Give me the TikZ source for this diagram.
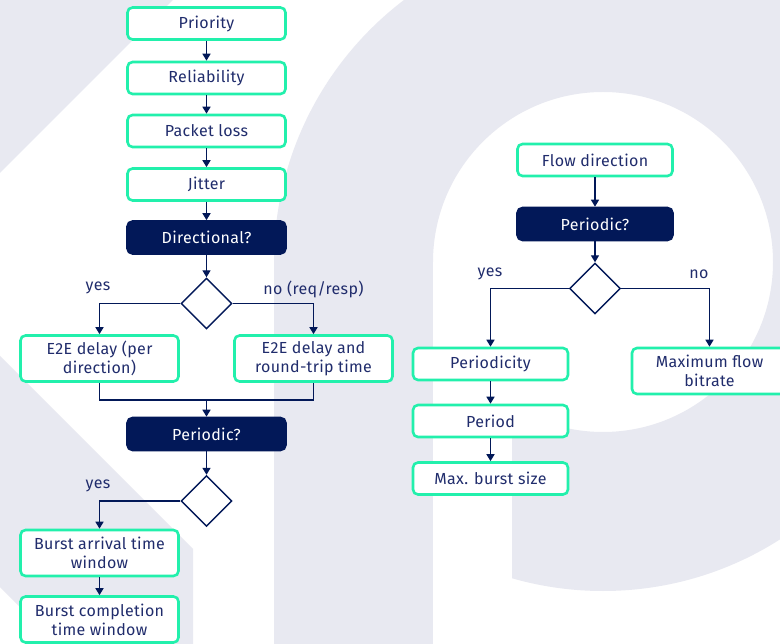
\documentclass[tikz,border=0pt]{standalone}
\usepackage{fontspec}
\setmainfont{Fira Sans}[LetterSpace=2]
\usetikzlibrary{shapes.geometric,arrows.meta}
\definecolor{navy}{RGB}{2,24,88}
\definecolor{ink}{RGB}{32,44,108}
\definecolor{mint}{RGB}{34,240,172}
\definecolor{haze}{RGB}{232,233,241}
\tikzset{every node/.style={font=\fontsize{16}{19}\selectfont, text=ink, align=center, inner sep=1pt},
  box/.style={draw=mint, line width=2.6pt, fill=white, rounded corners=5pt, minimum width=158pt, minimum height=32pt},
  tallbox/.style={box, minimum height=46pt},
  query/.style={box, draw=navy, fill=navy, text=white},
  choice/.style={diamond, draw=navy, fill=white, line width=1.4pt, minimum width=51pt, minimum height=51pt, inner sep=0pt},
  link/.style={draw=navy, line width=1.4pt},
  flow/.style={link, -{Triangle[length=7pt,width=8pt]}},
  lbl/.style={inner sep=0pt}}

\begin{document}
\begin{tikzpicture}[x=1pt,y=-1pt]
  \useasboundingbox (0,0) rectangle (780,644);
  % watermark
  \fill[white] (0,0) rectangle (780,644);
  \fill[haze] (0,0) -- (173,0) -- (0,173) -- cycle;
  \fill[haze] (0,356) -- (193,549) -- (193,644) -- (57,644) -- (0,587) -- cycle;
  \fill[haze,even odd rule] (603,262) circle[radius=329pt] (603,262) circle[radius=170pt];
  \fill[haze] (274,262) rectangle (433,644);
  \fill[white] (433,262) rectangle (512,644);

  % left chain
  \node[box] (prio) at (206.5, 23.5) {Priority};
  \node[box] (reli) at (206.5, 78.0) {Reliability};
  \node[box] (loss) at (206.5,131.0) {Packet loss};
  \node[box] (jit)  at (206.5,184.5) {Jitter};
  \node[query] (dir) at (206.5,237.5) {Directional?};
  \node[choice] (dec1) at (206.5,303.5) {};
  \node[tallbox] (e2ea) at ( 99.5,358.5) {E2E delay (per\\direction)};
  \node[tallbox] (e2eb) at (313.5,358.5) {E2E delay and\\round-trip time};
  \coordinate (join) at (206.5,400);
  \node[query] (per1) at (206.5,434.0) {Periodic?};
  \node[choice] (dec2) at (206.5,501.0) {};
  \node[tallbox] (arr)  at ( 99.5,553.0) {Burst arrival time\\window};
  \node[tallbox] (comp) at ( 99.5,619.5) {Burst completion\\time window};

  \node[lbl] (yes1) at ( 98,288) {yes};
  \node[lbl] (no1)  at (313.5,289) {no (req/resp)};
  \node[lbl] (yes2) at ( 98,486) {yes};

  % right chain
  \node[box, minimum width=155pt] (flow) at (595,160) {Flow direction};
  \node[query, minimum width=155pt] (per2) at (595,224) {Periodic?};
  \node[choice] (dec3) at (595,288.5) {};
  \node[box, minimum width=155pt] (pcty) at (490.5,364.0) {Periodicity};
  \node[box, minimum width=155pt] (prd)  at (490.5,421.0) {Period};
  \node[box, minimum width=155pt] (mbs)  at (490.5,478.5) {Max. burst size};
  \node[tallbox, minimum width=155pt] (mfb) at (709.5,371.0) {Maximum flow\\bitrate};

  \node[lbl] (yes3) at (490,274) {yes};
  \node[lbl] (no3)  at (699,274) {no};

  \draw[flow] (prio) -- (reli);
  \draw[flow] (reli) -- (loss);
  \draw[flow] (loss) -- (jit);
  \draw[flow] (jit) -- (dir);
  \draw[flow] (dir) -- (dec1);
  \draw[flow] (dec1.west) -| (e2ea.north);
  \draw[flow] (dec1.east) -| (e2eb.north);
  \draw[link] (e2ea.south) |- (join) -| (e2eb.south);
  \draw[flow] (join) -- (per1);
  \draw[flow] (per1) -- (dec2);
  \draw[flow] (dec2.west) -| (arr.north);
  \draw[flow] (arr) -- (comp);

  \draw[flow] (flow) -- (per2);
  \draw[flow] (per2) -- (dec3);
  \draw[flow] (dec3.west) -| (pcty.north);
  \draw[flow] (dec3.east) -| (mfb.north);
  \draw[flow] (pcty) -- (prd);
  \draw[flow] (prd) -- (mbs);
\end{tikzpicture}
\end{document}
